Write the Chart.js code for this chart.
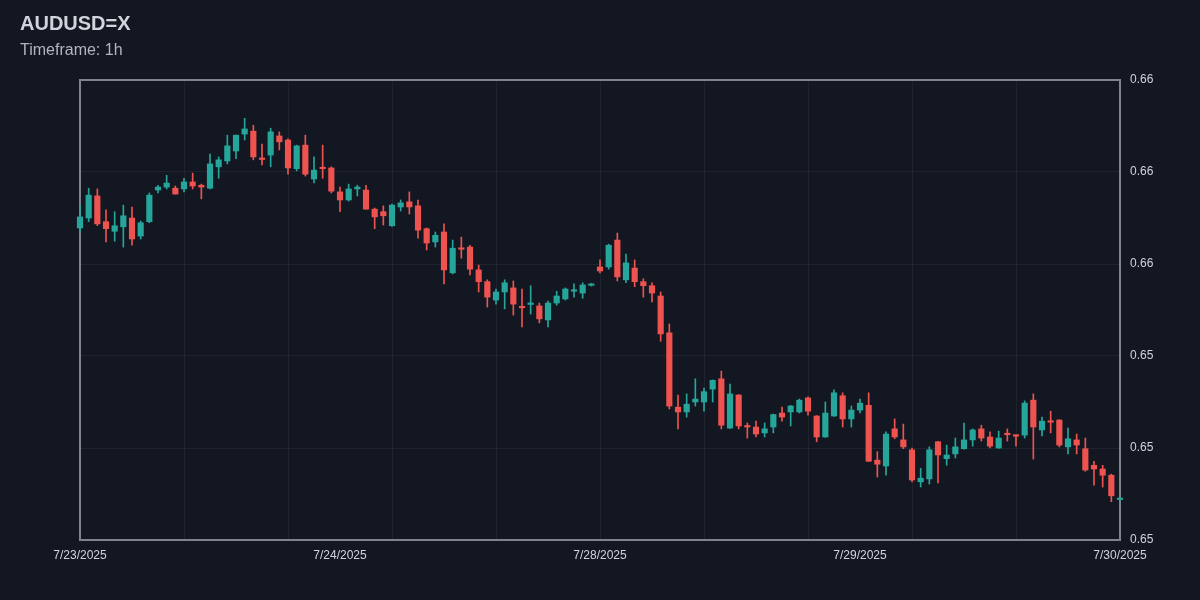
<!DOCTYPE html>
<html>
<head>
<meta charset="utf-8">
<script src="https://cdn.jsdelivr.net/npm/chart.js@4.4.1/dist/chart.umd.min.js"></script>
<style>
html,body{margin:0;padding:0;background:#131722;}
canvas{display:block;}
</style>
</head>
<body>
<canvas id="c" width="1200" height="600"></canvas>
<script>
const chartTitle = 'AUDUSD=X';
const chartSubtitle = 'Timeframe: 1h';

const openPrices = [
0.65848,0.65875,0.65935,0.65865,0.65839,0.65851,0.65875,0.65826,0.65865,0.65951,
0.65959,0.65956,0.65954,0.65973,0.65964,0.65956,0.66014,0.66030,0.66057,0.66103,
0.66111,0.66037,0.66046,0.66098,0.66087,0.66009,0.66073,0.65981,0.66011,0.66011,
0.65946,0.65924,0.65954,0.65951,0.65899,0.65892,0.65854,0.65905,0.65919,0.65908,
0.65846,0.65810,0.65837,0.65726,0.65793,0.65796,0.65734,0.65702,0.65652,0.65674,
0.65685,0.65635,0.65640,0.65636,0.65598,0.65644,0.65655,0.65676,0.65671,0.65692,
0.65742,0.65742,0.65815,0.65707,0.65739,0.65702,0.65691,0.65663,0.65563,0.65361,
0.65348,0.65375,0.65375,0.65410,0.65438,0.65304,0.65394,0.65311,0.65307,0.65291,
0.65307,0.65345,0.65348,0.65348,0.65386,0.65337,0.65280,0.65337,0.65392,0.65329,
0.65353,0.65366,0.65217,0.65201,0.65302,0.65272,0.65245,0.65158,0.65166,0.65267,
0.65221,0.65234,0.65248,0.65272,0.65302,0.65280,0.65250,0.65289,0.65285,0.65285,
0.65380,0.65299,0.65324,0.65326,0.65253,0.65272,0.65248,0.65203,0.65193,0.65176,
0.65110];
const highPrices = [
0.65910,0.65956,0.65954,0.65897,0.65892,0.65910,0.65905,0.65867,0.65943,0.65964,
0.65991,0.65962,0.65983,0.65997,0.65967,0.66049,0.66041,0.66100,0.66100,0.66146,
0.66127,0.66076,0.66119,0.66109,0.66090,0.66073,0.66100,0.66041,0.66073,0.66014,
0.65959,0.65967,0.65964,0.65964,0.65902,0.65908,0.65913,0.65924,0.65946,0.65924,
0.65848,0.65837,0.65859,0.65815,0.65823,0.65801,0.65747,0.65707,0.65682,0.65707,
0.65704,0.65682,0.65691,0.65644,0.65649,0.65676,0.65685,0.65696,0.65699,0.65697,
0.65761,0.65804,0.65834,0.65777,0.65761,0.65710,0.65699,0.65674,0.65587,0.65394,
0.65397,0.65438,0.65413,0.65435,0.65459,0.65424,0.65395,0.65318,0.65323,0.65318,
0.65342,0.65361,0.65366,0.65383,0.65389,0.65338,0.65375,0.65408,0.65400,0.65364,
0.65383,0.65400,0.65240,0.65294,0.65329,0.65315,0.65250,0.65195,0.65253,0.65268,
0.65258,0.65277,0.65318,0.65302,0.65312,0.65294,0.65296,0.65302,0.65286,0.65378,
0.65397,0.65334,0.65350,0.65327,0.65304,0.65288,0.65277,0.65214,0.65203,0.65179,
0.65114];
const lowPrices = [
0.65837,0.65865,0.65854,0.65810,0.65812,0.65796,0.65801,0.65818,0.65862,0.65943,
0.65954,0.65940,0.65946,0.65954,0.65927,0.65954,0.65983,0.66022,0.66036,0.66087,
0.66033,0.66019,0.66014,0.66060,0.65994,0.66003,0.65989,0.65970,0.65983,0.65943,
0.65892,0.65921,0.65935,0.65899,0.65846,0.65856,0.65852,0.65894,0.65886,0.65820,
0.65788,0.65796,0.65696,0.65723,0.65766,0.65720,0.65674,0.65633,0.65641,0.65628,
0.65611,0.65579,0.65614,0.65590,0.65579,0.65638,0.65652,0.65660,0.65657,0.65690,
0.65726,0.65736,0.65704,0.65699,0.65688,0.65660,0.65647,0.65540,0.65356,0.65302,
0.65334,0.65364,0.65350,0.65375,0.65302,0.65303,0.65302,0.65277,0.65280,0.65280,
0.65291,0.65323,0.65310,0.65345,0.65339,0.65267,0.65279,0.65336,0.65307,0.65307,
0.65345,0.65213,0.65171,0.65176,0.65275,0.65248,0.65158,0.65144,0.65152,0.65155,
0.65203,0.65223,0.65247,0.65255,0.65269,0.65250,0.65249,0.65269,0.65255,0.65277,
0.65220,0.65283,0.65291,0.65253,0.65234,0.65234,0.65187,0.65149,0.65144,0.65104,
0.65109];
const closePrices = [
0.65878,0.65937,0.65859,0.65846,0.65854,0.65881,0.65818,0.65862,0.65937,0.65959,
0.65970,0.65940,0.65973,0.65962,0.65959,0.66022,0.66033,0.66071,0.66100,0.66117,
0.66041,0.66034,0.66109,0.66082,0.66011,0.66071,0.65994,0.66005,0.66009,0.65948,
0.65924,0.65954,0.65959,0.65899,0.65878,0.65881,0.65910,0.65916,0.65905,0.65842,
0.65807,0.65828,0.65734,0.65793,0.65790,0.65736,0.65702,0.65660,0.65674,0.65699,
0.65641,0.65631,0.65644,0.65601,0.65644,0.65663,0.65682,0.65679,0.65693,0.65695,
0.65731,0.65801,0.65715,0.65753,0.65702,0.65691,0.65671,0.65560,0.65364,0.65348,
0.65369,0.65383,0.65403,0.65434,0.65312,0.65397,0.65310,0.65307,0.65288,0.65302,
0.65341,0.65334,0.65364,0.65380,0.65350,0.65280,0.65345,0.65400,0.65329,0.65353,
0.65372,0.65214,0.65206,0.65288,0.65280,0.65253,0.65163,0.65168,0.65245,0.65231,
0.65231,0.65253,0.65272,0.65299,0.65277,0.65255,0.65277,0.65286,0.65282,0.65372,
0.65307,0.65323,0.65320,0.65258,0.65275,0.65258,0.65190,0.65193,0.65176,0.65120,
0.65113];

const xTickIndex = [0, 30, 60, 90, 120];
const xTickLabels = ['7/23/2025', '7/24/2025', '7/28/2025', '7/29/2025', '7/30/2025'];
const yTickValues = [0.65, 0.6525, 0.655, 0.6575, 0.66, 0.6625];
const yTickLabels = ['0.65', '0.65', '0.65', '0.66', '0.66', '0.66'];

const UP = '#26a69a';
const DOWN = '#ef5350';
const BG = '#131722';
const GRID = 'rgba(255,255,255,0.055)';
const FRAME = '#80838c';
const TEXT = '#d1d4dc';
const GRID_EVERY = 12;
const lastIndex = openPrices.length - 1;

Chart.defaults.font.family = '"Liberation Sans", Arial, Helvetica, sans-serif';

const candleColors = openPrices.map((o, i) => closePrices[i] >= o ? UP : DOWN);

const decorPlugin = {
  id: 'decor',
  beforeDraw(chart) {
    const ctx = chart.ctx;
    ctx.save();
    ctx.fillStyle = BG;
    ctx.fillRect(0, 0, chart.width, chart.height);
    ctx.restore();
  },
  beforeDatasetsDraw(chart) {
    const a = chart.chartArea;
    const ctx = chart.ctx;
    ctx.save();
    ctx.strokeStyle = FRAME;
    ctx.lineWidth = 2;
    ctx.strokeRect(a.left, a.top, a.right - a.left, a.bottom - a.top);
    ctx.restore();
  },
  afterDraw(chart) {
    const ctx = chart.ctx;
    ctx.save();
    ctx.textBaseline = 'alphabetic';
    ctx.textAlign = 'left';
    ctx.fillStyle = TEXT;
    ctx.font = 'bold 20px "Liberation Sans", Arial, sans-serif';
    ctx.fillText(chartTitle, 20, 30);
    ctx.fillStyle = '#b2b5be';
    ctx.font = '16px "Liberation Sans", Arial, sans-serif';
    ctx.fillText(chartSubtitle, 20, 55);
    ctx.restore();
  }
};

new Chart(document.getElementById('c'), {
  type: 'bar',
  data: {
    datasets: [
      {
        label: 'body',
        data: openPrices.map((o, i) => ({ x: i, y: [o, closePrices[i]] })),
        backgroundColor: candleColors,
        borderWidth: 0,
        barThickness: 5.5,
        minBarLength: 1.5,
        grouped: false,
        clip: false,
        order: 1
      },
      {
        label: 'wick',
        data: openPrices.map((o, i) => ({ x: i, y: [lowPrices[i], highPrices[i]] })),
        backgroundColor: candleColors,
        borderWidth: 0,
        barThickness: 1,
        minBarLength: 1,
        grouped: false,
        clip: false,
        order: 2
      }
    ]
  },
  options: {
    responsive: false,
    animation: false,
    devicePixelRatio: 1,
    layout: { padding: { left: 80, top: 80, right: 0, bottom: 0 } },
    plugins: { legend: { display: false }, tooltip: { enabled: false }, title: { display: false } },
    scales: {
      x: {
        type: 'linear',
        min: 0,
        max: lastIndex,
        offset: false,
        grid: {
          offset: false,
          drawTicks: false,
          lineWidth: 1,
          color: (c) => (c.tick && c.tick.value % GRID_EVERY === 0) ? GRID : 'rgba(0,0,0,0)'
        },
        border: { display: false },
        afterBuildTicks: (s) => {
          const set = new Set(xTickIndex);
          for (let v = 0; v <= lastIndex; v += GRID_EVERY) set.add(v);
          s.ticks = [...set].sort((a, b) => a - b).map(v => ({ value: v }));
        },
        afterFit: (s) => { s.height = 60; },
        ticks: {
          autoSkip: false,
          maxRotation: 0,
          minRotation: 0,
          padding: 8,
          color: TEXT,
          font: { size: 12 },
          callback: (v) => {
            const k = xTickIndex.indexOf(v);
            return k >= 0 ? xTickLabels[k] : '';
          }
        }
      },
      y: {
        type: 'linear',
        position: 'right',
        min: yTickValues[0],
        max: yTickValues[yTickValues.length - 1],
        grid: { color: GRID, drawTicks: false, lineWidth: 1 },
        border: { display: false },
        afterBuildTicks: (s) => { s.ticks = yTickValues.map(v => ({ value: v })); },
        afterFit: (s) => { s.width = 80; },
        ticks: {
          padding: 10,
          color: TEXT,
          font: { size: 12 },
          callback: (v, i) => yTickLabels[i]
        }
      }
    }
  },
  plugins: [decorPlugin]
});
</script>
</body>
</html>
